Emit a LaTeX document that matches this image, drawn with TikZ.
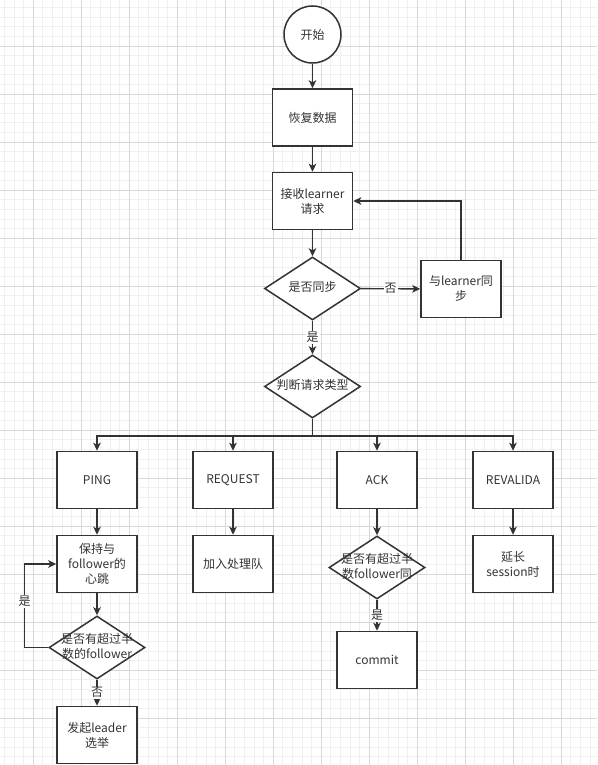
\documentclass[tikz,border=0pt]{standalone}
\usepackage{fontspec}
\setmainfont{Noto Sans CJK SC}
\usetikzlibrary{shapes.geometric,arrows.meta,calc}

\definecolor{linec}{RGB}{51,51,51}
\definecolor{gridmajor}{RGB}{216,216,216}
\definecolor{gridminor}{RGB}{240,240,240}

\tikzset{
    base/.style={draw=linec, line width=1.5pt, fill=white, text=linec,
        font=\fontsize{12}{15}\selectfont, align=center, inner sep=0pt},
    box/.style={base, rectangle, minimum width=80pt, minimum height=57pt},
    decision/.style={base, diamond, minimum width=96pt, minimum height=63pt},
    startnode/.style={base, circle, minimum size=57pt},
    flow/.style={draw=linec, line width=1.4pt,
        -{Stealth[length=8pt, width=7.5pt, inset=2pt]}},
    lbl/.style={fill=white, text=linec, inner sep=1pt,
        font=\fontsize{12}{14}\selectfont},
}

% 菱形里的字不撑大菱形
\newcommand{\dtext}[1]{\makebox[0pt]{\begin{tabular}{@{}c@{}}#1\end{tabular}}}

\begin{document}
\begin{tikzpicture}[x=1pt, y=-1pt]

    % ---- 背景网格 ----
    \fill[white] (0,0) rectangle (597,765);
    \useasboundingbox (0,0) rectangle (597,765);
    \foreach \i in {0,...,61}
        \draw[gridminor, line width=0.6pt] ({4.2+9.6*\i},0) -- ({4.2+9.6*\i},765);
    \foreach \j in {0,...,78}
        \draw[gridminor, line width=0.6pt] (0,{7.6+9.6*\j}) -- (597,{7.6+9.6*\j});
    \foreach \i in {0,...,11}
        \draw[gridmajor, line width=0.7pt] ({33+48*\i},0) -- ({33+48*\i},765);
    \foreach \j in {0,...,14}
        \draw[gridmajor, line width=0.7pt] (0,{46+48*\j}) -- (597,{46+48*\j});

    % ---- 主干 ----
    \node[startnode] (start) at (312.5,34.5) {开始};
    \node[box] (restore) at (312.5,117.5) {恢复数据};
    \node[box] (recv) at (312.5,201) {接收learner\\请求};
    \node[decision] (sync) at (312.5,288.5) {\dtext{是否同步}};
    \node[box] (syncl) at (461,289) {与learner同\\步};
    \node[decision] (type) at (312.5,386.5) {\dtext{判断请求类型}};

    % ---- 请求类型 ----
    \node[box] (ping) at (97,480) {PING};
    \node[box] (request) at (233,480) {REQUEST};
    \node[box] (ack) at (377,480) {ACK};
    \node[box] (revalida) at (513,480) {REVALIDA};

    \node[box] (beat) at (97,564) {保持与\\follower的\\心跳};
    \node[box] (queue) at (233,564) {加入处理队};
    \node[decision] (ackq) at (377,567.5) {\dtext{是否有超过半\\数follower同}};
    \node[box] (extend) at (513,564) {延长\\session时};

    \node[decision] (pingq) at (97,647.5) {\dtext{是否有超过半\\数的follower}};
    \node[box] (commit) at (377,660) {commit};
    \node[box] (elect) at (97,735) {发起leader\\选举};

    \coordinate (bus) at (312.5,436);
    \coordinate (loopc) at (24.5,564);

    % ---- 连线 ----
    \draw[flow] (start) -- (restore);
    \draw[flow] (restore) -- (recv);
    \draw[flow] (recv) -- (sync);
    \draw[flow] (sync) -- (syncl) node[lbl, pos=0.5] {否};
    \draw[flow] (syncl.north) |- (recv.east);
    \draw[flow] (sync) -- (type) node[lbl, pos=0.5] {是};

    \draw[flow] (type.south) -- (bus) -| (ping.north);
    \draw[flow] (type.south) -- (bus) -| (request.north);
    \draw[flow] (type.south) -- (bus) -| (ack.north);
    \draw[flow] (type.south) -- (bus) -| (revalida.north);

    \draw[flow] (ping) -- (beat);
    \draw[flow] (request) -- (queue);
    \draw[flow] (ack) -- (ackq);
    \draw[flow] (revalida) -- (extend);

    \draw[flow] (beat) -- (pingq);
    \draw[flow] (pingq.west) -| (loopc) node[lbl, pos=0.775] {是} -- (beat.west);
    \draw[flow] (pingq) -- (elect) node[lbl, pos=0.5] {否};
    \draw[flow] (ackq) -- (commit) node[lbl, pos=0.5] {是};

\end{tikzpicture}
\end{document}
